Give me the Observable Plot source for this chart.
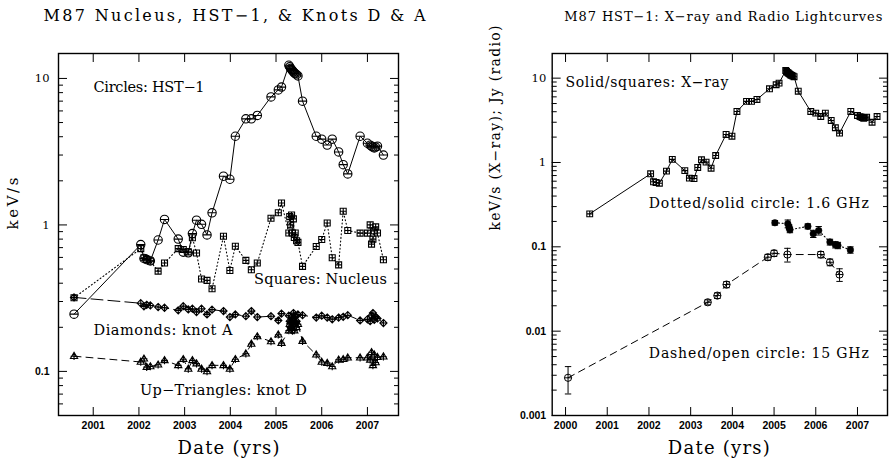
<!DOCTYPE html>
<html><head><meta charset="utf-8">
<script src="https://cdn.jsdelivr.net/npm/d3@7"></script>
<script src="https://cdn.jsdelivr.net/npm/@observablehq/plot@0.6"></script>
<style>
html,body{margin:0;padding:0;background:#fff;}
#chart{display:flex;width:892px;height:459px;overflow:hidden;}
#chart svg{max-width:none;flex:none;}
</style></head><body><div id="chart"></div>
<script>
// ---------------- data ----------------
// Chandra epochs (decimal years), shared by the left-panel series
const epochs = [2000.58, 2002.04, 2002.11, 2002.17, 2002.25, 2002.42, 2002.56, 2002.86, 2002.97, 2003.08,
  2003.17, 2003.26, 2003.37, 2003.49, 2003.60, 2003.85, 2003.99, 2004.11, 2004.34, 2004.46,
  2004.59, 2004.89, 2005.05, 2005.12, 2005.28, 2005.30, 2005.32, 2005.34, 2005.36, 2005.38,
  2005.40, 2005.42, 2005.45, 2005.48, 2005.58, 2005.88, 2006.00, 2006.12, 2006.23, 2006.37,
  2006.47, 2006.57, 2006.84, 2007.00, 2007.06, 2007.09, 2007.12, 2007.15, 2007.18, 2007.22,
  2007.35, 2007.47];
// HST-1 X-ray (keV/s)
const hst1 = [0.246, 0.734, 0.59, 0.58, 0.568, 0.789, 1.09, 0.80, 0.652, 0.645,
  0.873, 1.077, 1.01, 0.855, 1.21, 2.15, 2.05, 4.03, 5.3, 5.3,
  5.59, 7.48, 8.35, 8.73, 12.3, 12.0, 11.7, 11.5, 11.3, 11.1,
  10.9, 10.8, 10.6, 10.4, 7.0, 4.03, 3.85, 3.51, 3.85, 3.15,
  2.58, 2.23, 4.03, 3.61, 3.5, 3.45, 3.4, 3.35, 3.4, 3.45,
  3.0, 3.51];
// Nucleus (keV/s)
const nucleus = [0.318, 0.689, 0.597, 0.582, 0.566, 0.484, 0.549, 0.689, 0.68, 0.655,
  0.818, 0.643, 0.427, 0.418, 0.367, 0.836, 0.489, 0.716, 0.573, 0.494,
  0.549, 1.11, 1.21, 1.41, 0.88, 1.14, 1.0, 1.17, 0.88, 1.1,
  0.82, 0.88, 0.78, 0.76, 0.521, 0.713, 0.796, 1.03, 0.597, 0.534,
  1.24, 0.916, 0.879, 0.879, 1.0, 0.74, 0.80, 0.91, 0.97, 0.88,
  0.578];
// Knot A (keV/s)
const knotA = [0.32, 0.292, 0.278, 0.285, 0.282, 0.275, 0.272, 0.261, 0.279, 0.265,
  0.268, 0.254, 0.268, 0.245, 0.264, 0.258, 0.235, 0.245, 0.238, 0.258,
  0.235, 0.238, 0.223, 0.248, 0.24, 0.22, 0.2, 0.235, 0.19, 0.25,
  0.21, 0.24, 0.22, 0.245, 0.242, 0.233, 0.24, 0.233, 0.227, 0.233,
  0.236, 0.242, 0.223, 0.227, 0.22, 0.24, 0.25, 0.225, 0.235, 0.23,
  0.214];
// Knot D (keV/s)
const knotD = [0.127, 0.116, 0.122, 0.107, 0.108, 0.111, 0.119, 0.110, 0.121, 0.104,
  0.119, 0.113, 0.104, 0.100, 0.110, 0.110, 0.104, 0.121, 0.132, 0.154,
  0.173, 0.160, 0.178, 0.156, 0.19, 0.21, 0.22, 0.2, 0.23, 0.21,
  0.19, 0.22, 0.2, 0.21, 0.161, 0.130, 0.116, 0.114, 0.108, 0.120,
  0.121, 0.124, 0.124, 0.124, 0.12, 0.135, 0.11, 0.13, 0.115, 0.125,
  0.126];
// Radio 1.6 GHz (Jy)
const r16Dates = [2005.02, 2005.33, 2005.36, 2005.38, 2005.81, 2005.94, 2006.07, 2006.34, 2006.47, 2006.53, 2006.83];
const r16Flux  = [0.193, 0.188, 0.171, 0.159, 0.175, 0.143, 0.156, 0.114, 0.106, 0.104, 0.092];
const r16Err   = [0.012, 0.02, 0.012, 0.012, 0.012, 0.014, 0.018, 0.009, 0.009, 0.009, 0.008];
// Radio 15 GHz (Jy)
const r15Dates = [2000.06, 2003.41, 2003.64, 2003.86, 2004.85, 2005.00, 2005.32, 2006.12, 2006.34, 2006.57];
const r15Flux  = [0.0028, 0.022, 0.0264, 0.0357, 0.0753, 0.0839, 0.081, 0.081, 0.0656, 0.0469];
const r15Err   = [0.001, 0.0015, 0.002, 0.003, 0.006, 0.007, 0.015, 0.007, 0.006, 0.008];

const leftYearTicks = [2001, 2002, 2003, 2004, 2005, 2006, 2007];
const rightYearTicks = [2000, 2001, 2002, 2003, 2004, 2005, 2006, 2007];
const leftDecades = [0.1, 1, 10];
const rightDecades = [0.001, 0.01, 0.1, 1, 10];

// ---------------- helpers ----------------
const rows = (vals) => vals.map((v, i) => ({t: epochs[i], v}));
const rowsR = (ts, vs, es) => ts.map((t, i) => ({t, v: vs[i], e: es ? es[i] : 0}));
const minorTicks = (lo, hi) => d3.range(Math.floor(Math.log10(lo)), Math.ceil(Math.log10(hi)))
  .flatMap(e => d3.range(2, 10).map(m => +(m * Math.pow(10, e)).toPrecision(3)))
  .filter(v => v >= lo && v <= hi);

const SERIF = "DejaVu Serif";
const SANS = "Liberation Sans";

const rad = (size) => Math.sqrt(size / Math.PI);
const symCircleBar = {draw(c, s) { const r = rad(s); c.moveTo(r, 0); c.arc(0, 0, r, 0, 2 * Math.PI); c.moveTo(-r, 0); c.lineTo(r, 0); }};
const symSquarePlus = {draw(c, s) { const r = rad(s); c.rect(-r, -r, 2 * r, 2 * r); c.moveTo(-r, 0); c.lineTo(r, 0); c.moveTo(0, -r); c.lineTo(0, r); }};
const symDiamondPlus = {draw(c, s) { const r = rad(s); c.moveTo(0, -r); c.lineTo(r, 0); c.lineTo(0, r); c.lineTo(-r, 0); c.closePath(); c.moveTo(-r, 0); c.lineTo(r, 0); c.moveTo(0, -r); c.lineTo(0, r); }};
const symTriangleBar = {draw(c, s) { const r = rad(s); c.moveTo(0, -r); c.lineTo(r * 0.95, r * 0.6); c.lineTo(-r * 0.95, r * 0.6); c.closePath(); c.moveTo(-r * 0.9, 0); c.lineTo(r * 0.9, 0); c.moveTo(0, -r); c.lineTo(0, r); }};
const symCap = {draw(c, s) { const r = rad(s); c.moveTo(-r, 0); c.lineTo(r, 0); }};
const symOpenCircleBar = {draw(c, s) { const r = rad(s); c.moveTo(r, 0); c.arc(0, 0, r, 0, 2 * Math.PI); c.moveTo(-r, 0); c.lineTo(r, 0); }};

function frameAxes(xTicks, decades, yMinor, ySerif, ySans, yGap) {
  const none = () => "";
  return [
    Plot.frame({stroke: "black", strokeWidth: 1.4}),
    Plot.axisX({ticks: xTicks, tickSize: -8, tickPadding: 14, tickFormat: d => String(d), label: null,
      fontFamily: SANS, fontWeight: "bold", fontSize: 10.5, fill: "black", stroke: "black"}),
    Plot.axisX({anchor: "top", ticks: xTicks, tickSize: -8, tickFormat: none, label: null, stroke: "black"}),
    Plot.axisY({ticks: ySerif, tickSize: -9, tickPadding: 9 + yGap, tickFormat: d => String(d), label: null,
      fontFamily: SERIF, fontSize: 11.5, fill: "black", stroke: "black"}),
    Plot.axisY({ticks: ySans, tickSize: -9, tickPadding: 9 + yGap, tickFormat: d => String(d), label: null,
      fontFamily: SANS, fontWeight: "bold", fontSize: 10.5, fill: "black", stroke: "black"}),
    Plot.axisY({ticks: yMinor, tickSize: -5, tickFormat: none, label: null, stroke: "black"}),
    Plot.axisY({anchor: "right", ticks: decades, tickSize: -9, tickFormat: none, label: null, stroke: "black"}),
    Plot.axisY({anchor: "right", ticks: yMinor, tickSize: -5, tickFormat: none, label: null, stroke: "black"})
  ];
}
const txt = (s, o) => Plot.text([s], {text: d => d, fill: "black", fontFamily: SERIF, ...o});

function fit(svg, lengths) {
  d3.select(svg).selectAll("text").each(function () {
    const L = lengths[this.textContent];
    if (L) d3.select(this).attr("textLength", L).attr("lengthAdjust", "spacing");
  });
}

// ---------------- left panel ----------------
const hstL = rows(hst1.slice(0, nucleus.length));
const nucL = rows(nucleus);
const kaL = rows(knotA);
const kdL = rows(knotD);

const left = Plot.plot({
  width: 446, height: 459,
  marginLeft: 58, marginRight: 48, marginTop: 53, marginBottom: 44,
  style: {background: "white", overflow: "visible", color: "black"},
  x: {domain: [2000.24, 2007.68], label: null},
  y: {type: "log", domain: [0.05, 14.8], label: null},
  marks: [
    ...frameAxes(leftYearTicks, leftDecades, minorTicks(0.05, 14.8), [1, 10], [0.1], 9),
    Plot.line(hstL, {x: "t", y: "v", stroke: "black", strokeWidth: 1}),
    Plot.line(nucL, {x: "t", y: "v", stroke: "black", strokeWidth: 1.1, strokeDasharray: "1,2.6"}),
    Plot.line(kaL, {x: "t", y: "v", stroke: "black", strokeWidth: 1, strokeDasharray: "12,5"}),
    Plot.line(kdL, {x: "t", y: "v", stroke: "black", strokeWidth: 1, strokeDasharray: "7,5"}),
    Plot.dot(hstL, {x: "t", y: "v", symbol: symCircleBar, r: 4.2, stroke: "black", strokeWidth: 1.1, fill: "none"}),
    Plot.dot(nucL, {x: "t", y: "v", symbol: symSquarePlus, r: 3, stroke: "black", strokeWidth: 1.1, fill: "none"}),
    Plot.dot(kaL, {x: "t", y: "v", symbol: symDiamondPlus, r: 3.6, stroke: "black", strokeWidth: 1.1, fill: "none"}),
    Plot.dot(kdL, {x: "t", y: "v", symbol: symTriangleBar, r: 3.8, stroke: "black", strokeWidth: 1.1, fill: "none"}),
    txt("Circles: HST\u22121", {frameAnchor: "top-left", dx: 35, dy: 34, textAnchor: "start", lineAnchor: "middle", fontSize: 14.5}),
    txt("Squares: Nucleus", {frameAnchor: "top-left", dx: 195.5, dy: 226, textAnchor: "start", lineAnchor: "middle", fontSize: 14.5}),
    txt("Diamonds: knot A", {frameAnchor: "top-left", dx: 35, dy: 277, textAnchor: "start", lineAnchor: "middle", fontSize: 14.5}),
    txt("Up\u2212Triangles: knot D", {frameAnchor: "top-left", dx: 81.5, dy: 337, textAnchor: "start", lineAnchor: "middle", fontSize: 14.5}),
    txt("M87 Nucleus, HST\u22121, & Knots D & A", {frameAnchor: "top", dx: 6, dy: -38, lineAnchor: "middle", fontSize: 16}),
    txt("keV/s", {frameAnchor: "left", dx: -45, dy: -5, rotate: -90, lineAnchor: "middle", fontSize: 15}),
    txt("Date (yrs)", {frameAnchor: "bottom", dx: 0, dy: 33, lineAnchor: "middle", fontSize: 18})
  ]
});

// ---------------- right panel ----------------
const xr = rows(hst1);
const r16 = rowsR(r16Dates, r16Flux, r16Err);
const r15 = rowsR(r15Dates, r15Flux, r15Err);
const errs = r16.concat(r15);

const right = Plot.plot({
  width: 446, height: 459,
  marginLeft: 105.7, marginRight: 5, marginTop: 53, marginBottom: 44,
  style: {background: "white", overflow: "visible", color: "black"},
  x: {domain: [1999.68, 2007.72], label: null},
  y: {type: "log", domain: [0.001, 19.6], label: null},
  marks: [
    ...frameAxes(rightYearTicks, rightDecades, minorTicks(0.001, 19.6), [1, 10], [0.001, 0.01, 0.1], 6),
    Plot.line(xr, {x: "t", y: "v", stroke: "black", strokeWidth: 1}),
    Plot.line(r16, {x: "t", y: "v", stroke: "black", strokeWidth: 1.1, strokeDasharray: "1,2.6"}),
    Plot.line(r15, {x: "t", y: "v", stroke: "black", strokeWidth: 1, strokeDasharray: "7,5"}),
    Plot.ruleX(errs, {x: "t", y1: d => d.v - d.e, y2: d => d.v + d.e, stroke: "black", strokeWidth: 1}),
    Plot.dot(errs, {x: "t", y: d => d.v - d.e, symbol: symCap, r: 3.2, stroke: "black", strokeWidth: 1}),
    Plot.dot(errs, {x: "t", y: d => d.v + d.e, symbol: symCap, r: 3.2, stroke: "black", strokeWidth: 1}),
    Plot.dot(xr, {x: "t", y: "v", symbol: symSquarePlus, r: 2.9, stroke: "black", strokeWidth: 1.1, fill: "none"}),
    Plot.dot(r16, {x: "t", y: "v", r: 3.3, fill: "black", stroke: "black", strokeWidth: 0.5}),
    Plot.dot(r15, {x: "t", y: "v", symbol: symOpenCircleBar, r: 3.6, stroke: "black", strokeWidth: 1, fill: "none"}),
    txt("Solid/squares: X\u2212ray", {frameAnchor: "top-left", dx: 13.3, dy: 29.5, textAnchor: "start", lineAnchor: "middle", fontSize: 14}),
    txt("Dotted/solid circle: 1.6 GHz", {frameAnchor: "top-left", dx: 96.6, dy: 150, textAnchor: "start", lineAnchor: "middle", fontSize: 14}),
    txt("Dashed/open circle: 15 GHz", {frameAnchor: "top-left", dx: 96.6, dy: 300, textAnchor: "start", lineAnchor: "middle", fontSize: 14}),
    txt("M87 HST\u22121: X\u2212ray and Radio Lightcurves", {frameAnchor: "top", dx: 3.5, dy: -37, lineAnchor: "middle", fontSize: 13}),
    txt("keV/s (X\u2212ray); Jy (radio)", {frameAnchor: "left", dx: -56.7, dy: -4, rotate: -90, lineAnchor: "middle", fontSize: 14}),
    txt("Date (yrs)", {frameAnchor: "bottom", dx: -1, dy: 33, lineAnchor: "middle", fontSize: 18})
  ]
});

fit(left, {
  "M87 Nucleus, HST\u22121, & Knots D & A": 382,
  "Circles: HST\u22121": 111,
  "Squares: Nucleus": 133,
  "Diamonds: knot A": 139,
  "Up\u2212Triangles: knot D": 167,
  "keV/s": 52,
  "Date (yrs)": 102
});
fit(right, {
  "M87 HST\u22121: X\u2212ray and Radio Lightcurves": 318,
  "Solid/squares: X\u2212ray": 163,
  "Dotted/solid circle: 1.6 GHz": 220,
  "Dashed/open circle: 15 GHz": 220,
  "keV/s (X\u2212ray); Jy (radio)": 205,
  "Date (yrs)": 102
});

document.getElementById("chart").append(left, right);
</script></body></html>
